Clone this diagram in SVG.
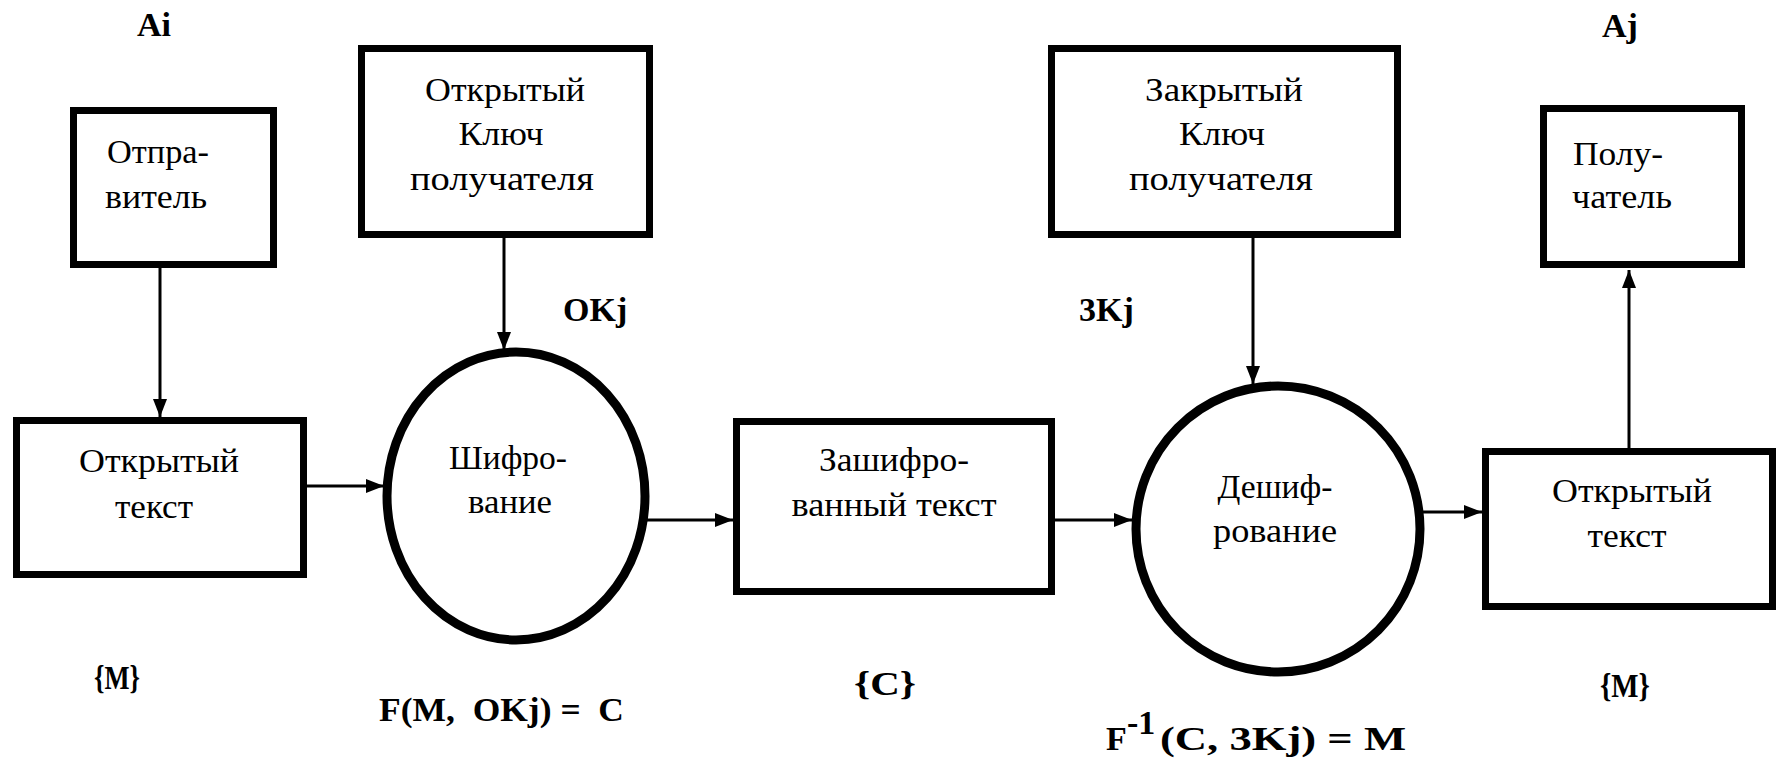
<svg xmlns="http://www.w3.org/2000/svg" width="1781" height="762" viewBox="0 0 1781 762">
<style>
.box{fill:#fff;stroke:#000;stroke-width:7}
.ell{fill:#fff;stroke:#000;stroke-width:9}
.t{font-family:'Liberation Serif','DejaVu Serif',serif;font-size:33px;fill:#000}
.c{text-anchor:middle}
.b{font-family:'Liberation Serif','DejaVu Serif',serif;font-size:34px;font-weight:bold;fill:#000}
.conn{stroke:#000;stroke-width:3;fill:none;marker-end:url(#ah)}
</style>
<defs>
<marker id="ah" markerUnits="userSpaceOnUse" markerWidth="18" markerHeight="16" refX="18" refY="8" orient="auto">
<path d="M0,1 L18,8 L0,15 z" fill="#000"/>
</marker>
</defs>
<rect width="1781" height="762" fill="#fff"/>
<g id="connectors">
<line class="conn" x1="160" y1="268" x2="160" y2="417"/>
<line class="conn" x1="504" y1="238" x2="504" y2="350"/>
<line class="conn" x1="307" y1="486" x2="384" y2="486"/>
<line class="conn" x1="643" y1="520" x2="733" y2="520"/>
<line class="conn" x1="1055" y1="520" x2="1132" y2="520"/>
<line class="conn" x1="1253" y1="238" x2="1253" y2="384"/>
<line class="conn" x1="1419" y1="512" x2="1482" y2="512"/>
<line class="conn" x1="1629" y1="448" x2="1629" y2="270"/>
</g>
<g id="label-ai" font-family="Liberation Serif, serif"><text class="b c" x="154" y="36">Ai</text></g>
<g id="label-aj" font-family="Liberation Serif, serif"><text class="b c" x="1620" y="37">Aj</text></g>
<g id="sender" font-family="Liberation Serif, serif">
<rect class="box" x="73.5" y="110.5" width="200" height="154"/>
<text class="t" x="107" y="163" textLength="102" lengthAdjust="spacingAndGlyphs">Отпра-</text>
<text class="t" x="105" y="208" textLength="102" lengthAdjust="spacingAndGlyphs">витель</text>
</g>
<g id="pubkey" font-family="Liberation Serif, serif">
<rect class="box" x="361.5" y="48.5" width="288" height="186"/>
<text class="t c" x="505" y="101" textLength="160" lengthAdjust="spacingAndGlyphs">Открытый</text>
<text class="t c" x="501" y="145" textLength="85" lengthAdjust="spacingAndGlyphs">Ключ</text>
<text class="t c" x="502" y="190" textLength="184" lengthAdjust="spacingAndGlyphs">получателя</text>
</g>
<g id="privkey" font-family="Liberation Serif, serif">
<rect class="box" x="1051.5" y="48.5" width="346" height="186"/>
<text class="t c" x="1224" y="101" textLength="158" lengthAdjust="spacingAndGlyphs">Закрытый</text>
<text class="t c" x="1222" y="145" textLength="86" lengthAdjust="spacingAndGlyphs">Ключ</text>
<text class="t c" x="1221" y="190" textLength="184" lengthAdjust="spacingAndGlyphs">получателя</text>
</g>
<g id="receiver" font-family="Liberation Serif, serif">
<rect class="box" x="1543.5" y="108.5" width="198" height="156"/>
<text class="t" x="1573" y="165" textLength="90" lengthAdjust="spacingAndGlyphs">Полу-</text>
<text class="t" x="1572" y="208" textLength="100" lengthAdjust="spacingAndGlyphs">чатель</text>
</g>
<g id="plain1" font-family="Liberation Serif, serif">
<rect class="box" x="16.5" y="420.5" width="287" height="154"/>
<text class="t c" x="159" y="472" textLength="160" lengthAdjust="spacingAndGlyphs">Открытый</text>
<text class="t c" x="154" y="518" textLength="78" lengthAdjust="spacingAndGlyphs">текст</text>
</g>
<g id="encrypt" font-family="Liberation Serif, serif">
<ellipse class="ell" cx="516" cy="496" rx="129" ry="144"/>
<text class="t c" x="508" y="469" textLength="118" lengthAdjust="spacingAndGlyphs">Шифро-</text>
<text class="t c" x="510" y="513" textLength="84" lengthAdjust="spacingAndGlyphs">вание</text>
</g>
<g id="cipher" font-family="Liberation Serif, serif">
<rect class="box" x="736.5" y="421.5" width="315" height="170"/>
<text class="t c" x="894" y="471" textLength="150" lengthAdjust="spacingAndGlyphs">Зашифро-</text>
<text class="t c" x="894" y="516" textLength="205" lengthAdjust="spacingAndGlyphs">ванный текст</text>
</g>
<g id="decrypt" font-family="Liberation Serif, serif">
<ellipse class="ell" cx="1278" cy="529" rx="142" ry="143"/>
<text class="t c" x="1275" y="498" textLength="115" lengthAdjust="spacingAndGlyphs">Дешиф-</text>
<text class="t c" x="1275" y="542" textLength="124" lengthAdjust="spacingAndGlyphs">рование</text>
</g>
<g id="plain2" font-family="Liberation Serif, serif">
<rect class="box" x="1485.5" y="451.5" width="287" height="155"/>
<text class="t c" x="1632" y="502" textLength="160" lengthAdjust="spacingAndGlyphs">Открытый</text>
<text class="t c" x="1627" y="547" textLength="79" lengthAdjust="spacingAndGlyphs">текст</text>
</g>
<g id="labels" font-family="Liberation Serif, serif">
<text class="b" x="563" y="321">OKj</text>
<text class="b" x="1079" y="321">3Kj</text>
<text class="b c" x="117" y="689" textLength="46" lengthAdjust="spacingAndGlyphs">{M}</text>
<text class="b" x="379" y="721" textLength="245" lengthAdjust="spacingAndGlyphs" xml:space="preserve">F(M,  OKj) =  C</text>
<text class="b c" x="885" y="695" textLength="62" lengthAdjust="spacingAndGlyphs">{C}</text>
<text class="b" x="1106" y="750">F</text>
<text class="b" x="1127" y="734" font-size="16">-1</text>
<text class="b" x="1160" y="750" textLength="246" lengthAdjust="spacingAndGlyphs" xml:space="preserve">(C, 3Kj) = M</text>
<text class="b c" x="1625" y="697" textLength="50" lengthAdjust="spacingAndGlyphs">{M}</text>
</g>
</svg>
